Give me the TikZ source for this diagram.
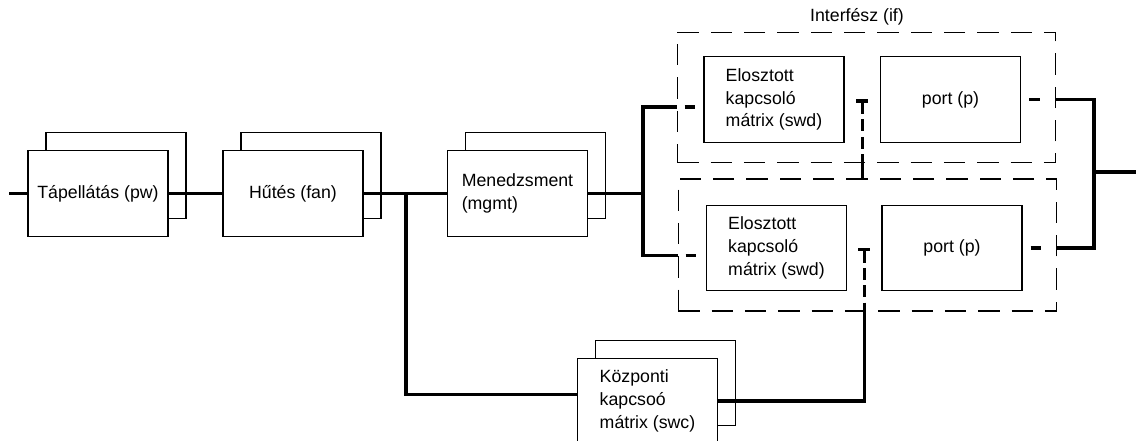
\documentclass[tikz,border=0pt]{standalone}
\usepackage{fontspec}
\setmainfont{Liberation Sans}
\usepackage{tikz}
\usetikzlibrary{arrows.meta, calc, shadows}

\tikzset{
  unitbox/.style={draw, fill=white, line width=0.8pt, minimum width=105pt, minimum height=64pt,
    inner sep=2pt, font=\fontsize{13.3pt}{17pt}\selectfont},
  stackbox/.style={unitbox, copy shadow={shadow xshift=13.5pt, shadow yshift=13.5pt}},
  ifbox/.style={draw, line width=0.8pt, dash pattern=on 16pt off 9pt, minimum width=284pt},
  bus/.style={line width=2.6pt},
  linkdash/.style={line width=2.6pt, dash pattern=on 9pt off 4pt},
  stub/.style={line width=2.6pt, dash pattern=on 0pt off 6pt on 8pt off 30pt}
}

\begin{document}
\begin{tikzpicture}[x=0.75pt, y=-0.75pt]
\fill[white] (0,0) rectangle (1136,441);
\useasboundingbox (0,0) rectangle (1136,441);

\node[ifbox, minimum height=98pt] (if1) at (866.5,97.5) {};
\node[ifbox, minimum height=99pt] (if2) at (867.5,245) {};
\node[font=\fontsize{13.3pt}{17pt}\selectfont] (iflabel) at (857,17) {Interfész (if)};

\node[stackbox] (pw) at (98,193.5) {Tápellátás (pw)};
\node[stackbox] (fan) at (293,193.5) {Hűtés (fan)};
\node[stackbox, align=left] (mgmt) at (517.5,193.5) {Menedzsment\\(mgmt)};
\node[stackbox, align=left] (swc) at (647.5,401) {Központi\\kapcsoó\\mátrix (swc)};

\node[unitbox, align=left] (swd1) at (774,99.5) {Elosztott\\kapcsoló\\mátrix (swd)};
\node[unitbox] (port1) at (950.5,99.5) {port (p)};
\node[unitbox, align=left] (swd2) at (776.5,248) {Elosztott\\kapcsoló\\mátrix (swd)};
\node[unitbox] (port2) at (952,248) {port (p)};

\coordinate (lin) at (9,193.5);
\coordinate (j1) at (406,193.5);
\coordinate (jm) at (643,193.5);
\coordinate (jr) at (1094,172);
\coordinate (rout) at (1136,172);
\coordinate (s1) at ([yshift=-5.5pt]swd1.west);
\coordinate (s2) at ([yshift=-5.5pt]swd2.west);
\coordinate (t1) at ($(swd1.east)!0.5!(port1.west)$);
\coordinate (t2) at ($(swd2.east)!0.5!(port2.west)$);

\draw[bus] (lin) -- (pw.west);
\draw[bus] (pw.east) -- (fan.west);
\draw[bus] (fan.east) -- (mgmt.west);
\draw[bus] (j1) |- ([yshift=5pt]swc.west);
\draw[bus] (mgmt.east) -- (jm);
\draw[bus] (if1.west |- s1) -| (jm) |- (if2.west |- s2);
\draw[stub] (if1.west |- s1) -- (s1);
\draw[stub] (if2.west |- s2) -- (s2);

\draw[stub] (port1.east) -- (if1.east |- port1.east);
\draw[stub] (port2.east) -- (if2.east |- port2.east);
\draw[bus] (if1.east |- port1.east) -| (jr) |- (if2.east |- port2.east);
\draw[bus] (jr) -- (rout);

\draw[linkdash, {Bar[width=9pt]}-] (t1) -- (t1 |- if1.south);
\draw[bus] (t1 |- if1.south) -- (t1 |- if2.north);
\draw[linkdash, {Bar[width=9pt]}-] (t2) -- (t2 |- if2.south);
\draw[bus] (t2 |- if2.south) |- (swc.east);
\end{tikzpicture}
\end{document}
